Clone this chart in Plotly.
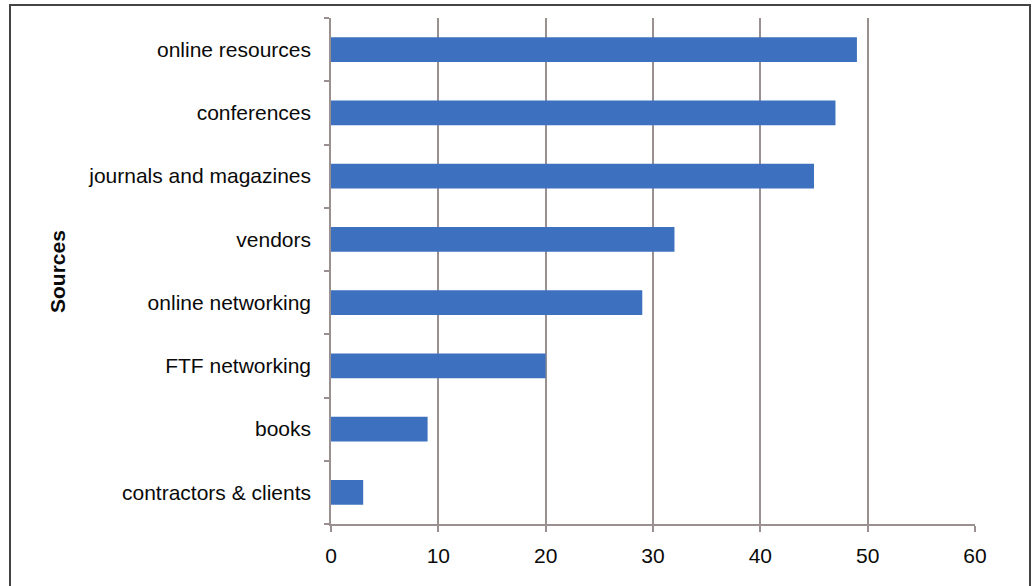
import plotly.graph_objects as go

categories = ["online resources", "conferences", "journals and magazines", "vendors",
              "online networking", "FTF networking", "books", "contractors & clients"]
values = [49, 47, 45, 32, 29, 20, 9, 3]
x_ticks = [0, 10, 20, 30, 40, 50, 60]

W, H = 1034, 586
ml, mr, mt, mb = 331, 59, 18, 62
pw, ph = W - ml - mr, H - mt - mb

def px(x):
    return (x - ml) / pw

def py(y):
    return (H - mb - y) / ph

axis_col = "#9b9090"
font_fam = "Liberation Sans, Arial, Helvetica, sans-serif"
txt_col = "#0a0a0a"

fig = go.Figure(go.Bar(
    x=values, y=categories, orientation="h",
    marker=dict(color="#3d71bf", line=dict(width=0)),
    width=0.39,
))

fig.update_layout(
    width=W, height=H,
    margin=dict(l=ml, r=mr, t=mt, b=mb, autoexpand=False),
    paper_bgcolor="white", plot_bgcolor="white",
    showlegend=False,
    font=dict(family=font_fam, size=21, color=txt_col),
    xaxis=dict(
        range=[0, 60], tickvals=x_ticks, ticktext=[str(v) for v in x_ticks],
        showgrid=True, gridcolor=axis_col, gridwidth=1.5,
        showline=True, linecolor=axis_col, linewidth=1.5,
        ticks="outside", ticklen=6, tickcolor=axis_col, tickwidth=1.5,
        ticklabelstandoff=6,
        zeroline=False, fixedrange=True,
        tickfont=dict(size=21, color=txt_col),
    ),
    yaxis=dict(
        categoryorder="array", categoryarray=categories[::-1],
        range=[-0.5, len(categories) - 0.5],
        showline=True, linecolor=axis_col, linewidth=1.5,
        ticks="outside", ticklen=5, tickcolor=axis_col, tickwidth=1.5,
        tickson="boundaries", ticklabelstandoff=14,
        showgrid=False, zeroline=False, fixedrange=True,
        tickfont=dict(size=21, color=txt_col),
    ),
    shapes=[dict(
        type="rect", xref="paper", yref="paper",
        x0=px(10), x1=px(1030), y0=py(600), y1=py(5),
        line=dict(color="#444444", width=2), fillcolor="rgba(0,0,0,0)",
    )],
    annotations=[dict(
        text="<b>Sources</b>", xref="paper", yref="paper",
        x=px(57), y=py(272), textangle=-90, showarrow=False,
        font=dict(size=21, color=txt_col),
        xanchor="center", yanchor="middle",
    )],
)

fig.write_html("out.html", config={"displayModeBar": False},
               post_script="document.body.style.margin='0';")
